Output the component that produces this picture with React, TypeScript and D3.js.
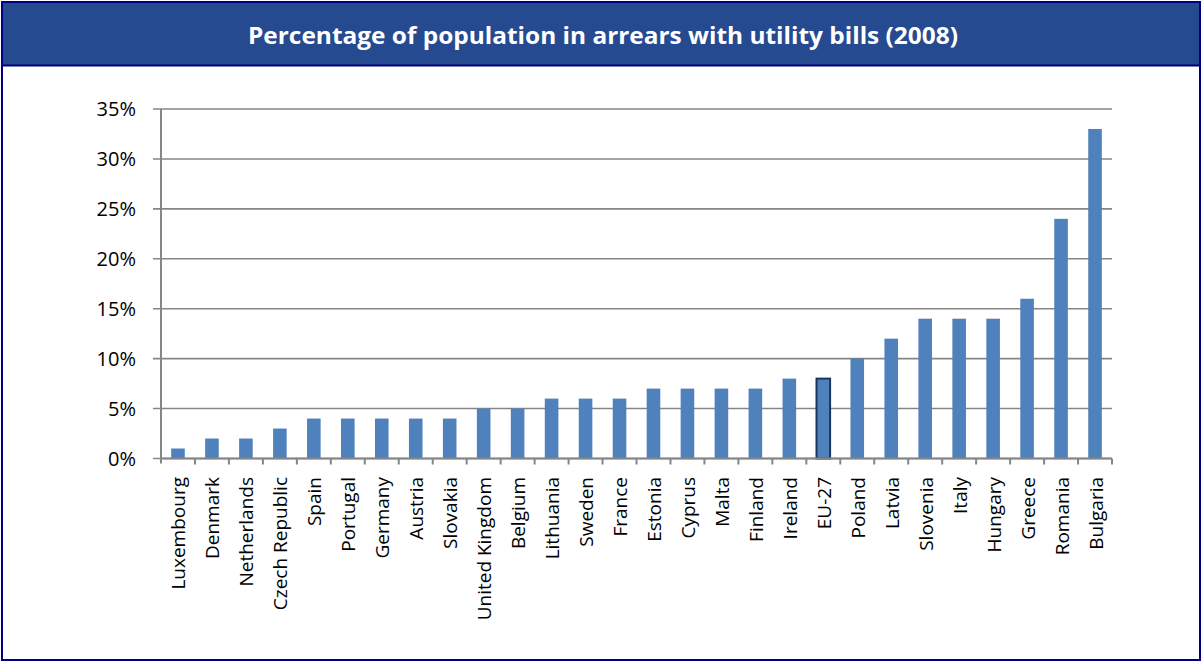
import React from "react";
import * as d3 from "d3";

const countries = [
  "Luxembourg", "Denmark", "Netherlands", "Czech Republic", "Spain", "Portugal",
  "Germany", "Austria", "Slovakia", "United Kingdom", "Belgium", "Lithuania",
  "Sweden", "France", "Estonia", "Cyprus", "Malta", "Finland", "Ireland", "EU-27",
  "Poland", "Latvia", "Slovenia", "Italy", "Hungary", "Greece", "Romania", "Bulgaria",
];
const values = [1, 2, 2, 3, 4, 4, 4, 4, 4, 5, 5, 6, 6, 6, 7, 7, 7, 7, 8, 8, 10, 12, 14, 14, 14, 16, 24, 33];
const yTicks = [0, 5, 10, 15, 20, 25, 30, 35];
const highlight = "EU-27";
const title = "Percentage of population in arrears with utility bills (2008)";

export default function App() {
  const W = 1203;
  const H = 662;
  const left = 161;
  const right = 1112;
  const top = 109;
  const bottom = 458.5;

  const x = d3.scaleBand<string>().domain(countries).range([left, right]).paddingInner(0.6).paddingOuter(0.3);
  const band = d3.scaleBand<string>().domain(countries).range([left, right]);
  const y = d3.scaleLinear().domain([0, 35]).range([bottom, top]);

  const font = "'Open Sans', 'Liberation Sans', sans-serif";
  const grid = "#868686";

  return (
    <svg
      width={W}
      height={H}
      style={{ position: "absolute", left: 0, top: 0, background: "#fff" }}
      fontFamily={font}
    >
      <rect x={0} y={0} width={W} height={H} fill="#fff" />
      {/* title band */}
      <rect x={2} y={2} width={1198} height={63} fill="#254a8f" />
      <line x1={2} x2={1200} y1={65.5} y2={65.5} stroke="#000080" strokeWidth={2} />
      <rect x={2} y={2} width={1198} height={658} fill="none" stroke="#000080" strokeWidth={2} />
      <text
        x={603}
        y={44}
        textAnchor="middle"
        fill="#fff"
        fontWeight="bold"
        fontSize={24}
        textLength={710}
        lengthAdjust="spacingAndGlyphs"
      >
        {title}
      </text>

      {/* gridlines and y ticks */}
      {yTicks.map((t) => (
        <g key={t}>
          <line x1={153} x2={right} y1={y(t)} y2={y(t)} stroke={grid} strokeWidth={1.6} />
          <text x={136} y={y(t) + 7} textAnchor="end" fontSize={20} fill="#000">
            {t}%
          </text>
        </g>
      ))}

      {/* y axis */}
      <line x1={left} x2={left} y1={top} y2={bottom + 5} stroke={grid} strokeWidth={2} />

      {/* bars */}
      {countries.map((c, i) => (
        <rect
          key={c}
          x={x(c)}
          y={y(values[i])}
          width={x.bandwidth()}
          height={bottom - y(values[i])}
          fill="#4f81bd"
          stroke={c === highlight ? "#1c365c" : "none"}
          strokeWidth={c === highlight ? 2 : 0}
        />
      ))}

      {/* x axis */}
      <line x1={left} x2={right} y1={bottom} y2={bottom} stroke={grid} strokeWidth={2} />
      {countries.map((c) => (
        <line
          key={"t" + c}
          x1={(band(c) as number) + band.bandwidth()}
          x2={(band(c) as number) + band.bandwidth()}
          y1={bottom}
          y2={bottom + 6}
          stroke={grid}
          strokeWidth={2}
        />
      ))}

      {/* x labels */}
      {countries.map((c) => {
        const cx = (band(c) as number) + band.bandwidth() / 2 + 7.5;
        const cy = 477;
        return (
          <text
            key={"l" + c}
            transform={`translate(${cx},${cy}) rotate(-90)`}
            textAnchor="end"
            fontSize={19}
            fill="#000"
          >
            {c}
          </text>
        );
      })}
    </svg>
  );
}
